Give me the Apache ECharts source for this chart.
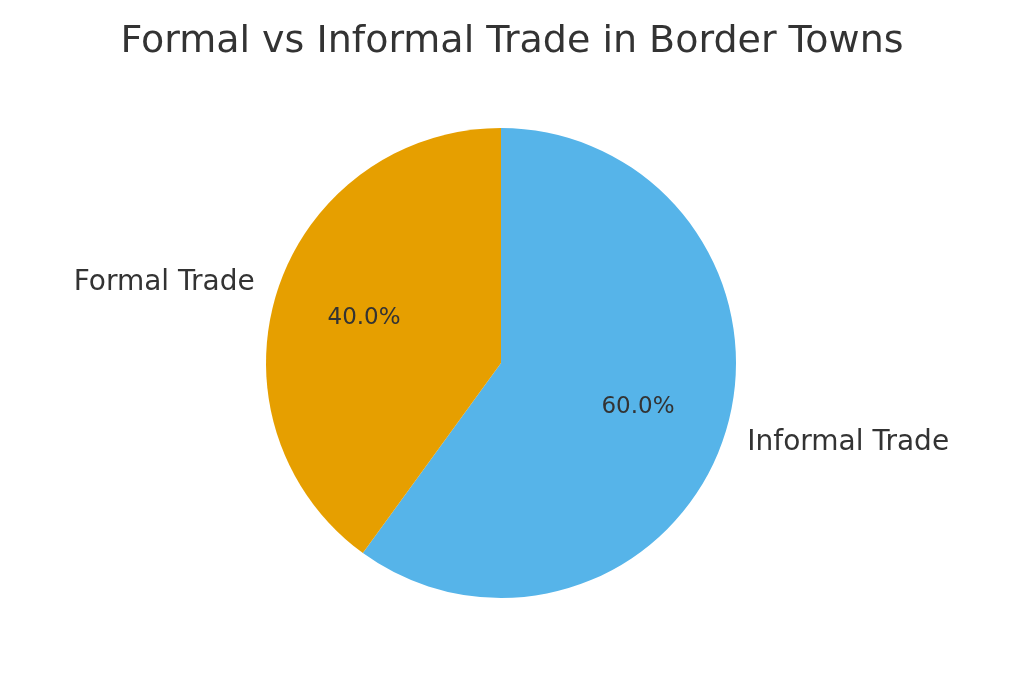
<!DOCTYPE html>
<html>
<head>
<meta charset="utf-8">
<script src="https://cdn.jsdelivr.net/npm/echarts@6/dist/echarts.min.js"></script>
<style>html,body{margin:0;padding:0;background:#fff}#main{width:1024px;height:683px}</style>
</head>
<body>
<div id="main"></div>
<script>
const categories = ['Informal Trade', 'Formal Trade']
const values = [60, 40]
const colors = ['#56B4E9', '#E69F00']

const data = categories.map((name, i) => ({ name, value: values[i], itemStyle: { color: colors[i] } }))
const chart = echarts.init(document.getElementById('main'))
const base = {
  type: 'pie',
  center: [501, 363],
  radius: [0, 235],
  startAngle: 90,
  clockwise: true,
  silent: true,
  animation: false,
  data: data,
}
chart.setOption({
  textStyle: { fontFamily: 'DejaVu Sans' },
  title: {
    text: 'Formal vs Informal Trade in Border Towns',
    left: 'center', top: 18,
    textStyle: { fontSize: 38, fontWeight: 'normal', color: '#333', fontFamily: 'DejaVu Sans' },
  },
  series: [
    Object.assign({}, base, {
      label: { position: 'outside', fontSize: 28, color: '#333', formatter: '{b}', distanceToLabelLine: 0 },
      labelLine: { show: false, length: 24, length2: 0 },
    }),
    Object.assign({}, base, {
      data: data.map(d => ({ name: d.name, value: d.value, itemStyle: { color: 'transparent' } })),
      label: {
        position: 'inside', fontSize: 23, color: '#333',
        formatter: p => p.percent.toFixed(1) + '%',
      },
      labelLine: { show: false },
      radius: [0, 235 * 1.2],
    }),
  ],
})
</script>
</body>
</html>
